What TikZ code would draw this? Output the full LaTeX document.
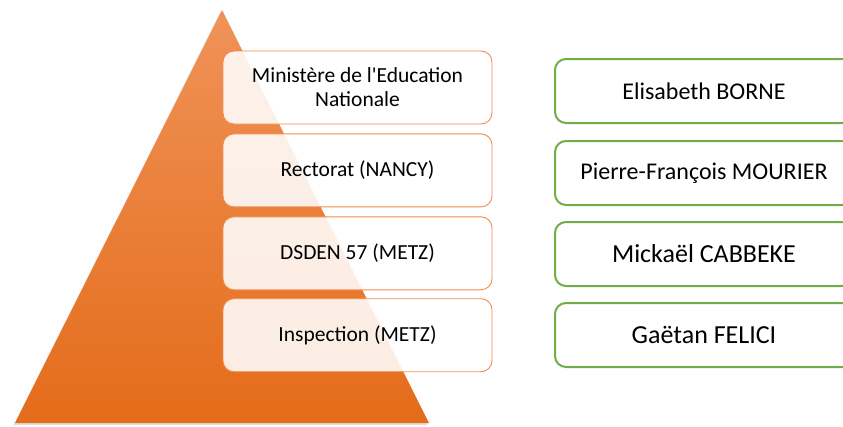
\documentclass[tikz,border=0pt]{standalone}
\usepackage{fontspec}
\setmainfont{Carlito}
\usepackage{tikz}
\usetikzlibrary{positioning}
\usetikzlibrary{shadows}

\definecolor{pyrtop}{RGB}{240,146,88}
\definecolor{pyrmid}{RGB}{244,124,44}
\definecolor{pyrbot}{RGB}{228,108,26}
\definecolor{orgline}{RGB}{242,140,80}
\definecolor{nameline}{RGB}{112,173,71}

\tikzset{
  orgbox/.style={draw=orgline,line width=0.9pt,rounded corners=11pt,fill=white,fill opacity=0.88,text opacity=1,minimum width=269pt,minimum height=73pt,inner sep=0pt,align=center,font=\fontsize{21.5}{24}\selectfont},
  namebox/.style={draw=nameline,line width=2pt,rounded corners=11pt,fill=white,minimum width=298pt,minimum height=64pt,inner sep=0pt,align=center},
}

\begin{document}
\begin{tikzpicture}[x=1pt,y=-1pt]
  \useasboundingbox (0,0) rectangle (843,426);

  %pyramid
  \path[top color=pyrtop,middle color=pyrmid,bottom color=pyrbot,drop shadow={opacity=0.25,shadow xshift=-1.5pt,shadow yshift=-2pt}] (15,423) -- (222,10) -- (429,423) -- cycle;

  %left boxes
  \node[orgbox] (org1) at (357.5,87.5) {Ministère de l\textquotesingle Education\\Nationale};
  \node[orgbox,below=9pt of org1] (org2) {Rectorat (NANCY)};
  \node[orgbox,below=9pt of org2] (org3) {DSDEN 57 (METZ)};
  \node[orgbox,below=8pt of org3] (org4) {Inspection (METZ)};

  %right boxes
  \node[namebox,font=\fontsize{24}{28}\selectfont] (name1) at (704,91) {Elisabeth BORNE};
  \node[namebox,font=\fontsize{24}{28}\selectfont,below=16pt of name1] (name2) {Pierre-François MOURIER};
  \node[namebox,font=\fontsize{26}{30}\selectfont,below=15pt of name2] (name3) {Mickaël CABBEKE};
  \node[namebox,font=\fontsize{26}{30}\selectfont,below=15pt of name3] (name4) {Gaëtan FELICI};
\end{tikzpicture}
\end{document}
